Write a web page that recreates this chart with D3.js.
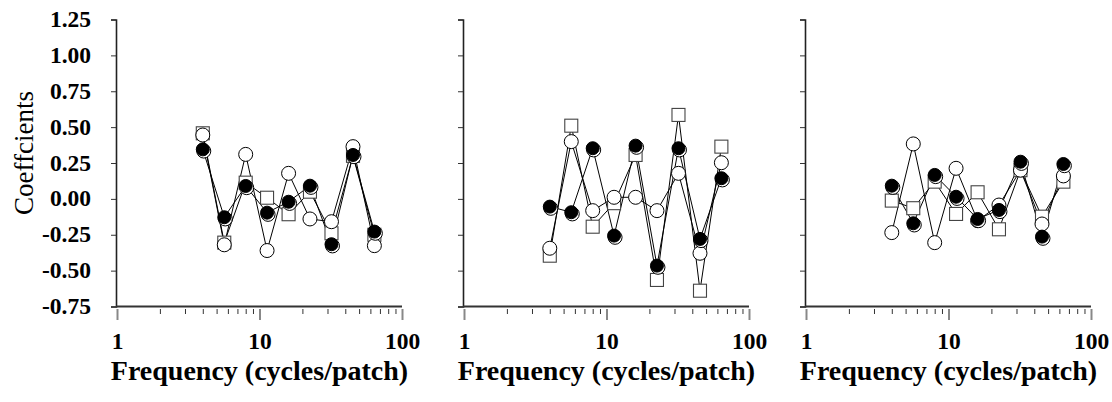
<!doctype html>
<html>
<head>
<meta charset="utf-8">
<title>Coefficients by frequency</title>
<script src="https://cdn.jsdelivr.net/npm/d3@7"></script>
<style>
  body { margin: 0; background: #fff; }
  svg { display: block; }
  .tick text { font-family: "Liberation Serif", serif; font-weight: bold; font-size: 23.5px; fill: #000; }
  .title { font-family: "Liberation Serif", serif; fill: #000; }
</style>
</head>
<body>
<script>
"use strict";

// spatial frequencies (cycles/patch), half-octave steps
const freqs = [4, 5.66, 8, 11.3, 16, 22.6, 32, 45.3, 64];

// per panel: filled circles, open circles, open squares
const filled = [
  [0.345, -0.128, 0.09, -0.096, -0.02, 0.092, -0.316, 0.306, -0.228],
  [-0.054, -0.093, 0.353, -0.256, 0.371, -0.465, 0.353, -0.279, 0.144],
  [0.092, -0.17, 0.167, 0.015, -0.14, -0.077, 0.259, -0.263, 0.243]
];
const open = [
  [0.445, -0.32, 0.31, -0.36, 0.178, -0.14, -0.159, 0.364, -0.326],
  [-0.344, 0.399, -0.082, 0.011, 0.011, -0.082, 0.178, -0.379, 0.252],
  [-0.235, 0.383, -0.305, 0.213, -0.152, -0.043, 0.2, -0.175, 0.16]
];
const squares = [
  [0.457, -0.305, 0.113, 0.008, -0.107, 0.05, -0.24, 0.3, -0.25],
  [-0.396, 0.51, -0.194, -0.03, 0.306, -0.565, 0.585, -0.64, 0.364],
  [-0.012, -0.065, 0.12, -0.105, 0.046, -0.212, 0.2, -0.124, 0.12]
];

const yTicks = [1.25, 1.0, 0.75, 0.5, 0.25, 0, -0.25, -0.5, -0.75];
const yTickLabels = ["1.25", "1.00", "0.75", "0.50", "0.25", "0.00", "-0.25", "-0.50", "-0.75"];
const xMajor = [1, 10, 100];
const xMajorLabels = ["1", "10", "100"];
const xMinor = [2, 3, 4, 5, 6, 7, 8, 9, 20, 30, 40, 50, 60, 70, 80, 90];

const width = 1112, height = 402;
const panelLeft = [117, 464, 806];
const panelWidth = 285;

const svg = d3.select("body").append("svg")
    .attr("width", width)
    .attr("height", height);

const x = d3.scaleLog().domain([1, 100]).range([0, panelWidth]);
const y = d3.scaleLinear().domain([-0.75, 1.25]).range([306.5, 19.5]);

const line = d3.line()
    .x(d => x(d[0]))
    .y(d => y(d[1]));

panelLeft.forEach((left, p) => {
    const g = svg.append("g").attr("transform", `translate(${left},0)`);

    // y axis
    const yAxis = g.append("g")
        .attr("transform", "translate(-1,0)")
        .call(d3.axisLeft(y).tickValues(yTicks).tickSize(5).tickPadding(20)
            .tickFormat((d, i) => p === 0 ? yTickLabels[i] : ""));
    yAxis.select(".domain").attr("stroke", "#222").attr("stroke-width", 1.6);
    yAxis.selectAll(".tick line").attr("stroke", "#333");
    yAxis.selectAll(".tick text").attr("dy", "0.3em");

    // x axis line
    g.append("line")
        .attr("x1", -1).attr("x2", x(100))
        .attr("y1", y(-0.75)).attr("y2", y(-0.75))
        .attr("stroke", "#333").attr("stroke-width", 2.2);

    // major and minor x ticks, hanging below the axis line
    const xMaj = g.append("g")
        .attr("transform", `translate(0,${y(-0.75) + 2.5})`)
        .call(d3.axisBottom(x).tickValues(xMajor).tickSize(11).tickPadding(12)
            .tickFormat((d, i) => xMajorLabels[i]));
    xMaj.select(".domain").remove();
    xMaj.selectAll(".tick line").attr("stroke", "#888").attr("stroke-width", 2);

    const xMin = g.append("g")
        .attr("transform", `translate(0,${y(-0.75) + 2.5})`)
        .call(d3.axisBottom(x).tickValues(xMinor).tickSize(5).tickFormat(""));
    xMin.select(".domain").remove();
    xMin.selectAll(".tick line").attr("stroke", "#333");

    g.append("text")
        .attr("class", "title")
        .attr("x", x(10))
        .attr("y", 380)
        .attr("text-anchor", "middle")
        .attr("font-size", 28)
        .attr("font-weight", "bold")
        .text("Frequency (cycles/patch)");

    const series = [squares[p], open[p], filled[p]];
    series.forEach(vals => {
        g.append("path")
            .datum(freqs.map((f, i) => [f, vals[i]]))
            .attr("fill", "none")
            .attr("stroke", "#000")
            .attr("stroke-width", 1)
            .attr("d", line);
    });

    // squares
    g.selectAll(".sq")
        .data(freqs.map((f, i) => [f, squares[p][i]]))
        .join("rect")
        .attr("class", "sq")
        .attr("x", d => x(d[0]) - 6.5)
        .attr("y", d => y(d[1]) - 6.5)
        .attr("width", 13).attr("height", 13)
        .attr("fill", "#fff").attr("stroke", "#444").attr("stroke-width", 1.1);

    // open circles
    g.selectAll(".oc")
        .data(freqs.map((f, i) => [f, open[p][i]]))
        .join("circle")
        .attr("class", "oc")
        .attr("cx", d => x(d[0]))
        .attr("cy", d => y(d[1]))
        .attr("r", 7)
        .attr("fill", "#fff").attr("stroke", "#000").attr("stroke-width", 1);

    // filled circles with their offset outline ring
    const fd = freqs.map((f, i) => [f, filled[p][i]]);
    g.selectAll(".fr")
        .data(fd)
        .join("circle")
        .attr("class", "fr")
        .attr("cx", d => x(d[0]) + 1)
        .attr("cy", d => y(d[1]) + 1.7)
        .attr("r", 7)
        .attr("fill", "#fff").attr("stroke", "#000").attr("stroke-width", 1);
    g.selectAll(".fc")
        .data(fd)
        .join("circle")
        .attr("class", "fc")
        .attr("cx", d => x(d[0]))
        .attr("cy", d => y(d[1]))
        .attr("r", 6.5)
        .attr("fill", "#000").attr("stroke", "#000").attr("stroke-width", 1);
});

svg.append("text")
    .attr("class", "title")
    .attr("transform", `translate(33,${y(0.32)}) rotate(-90)`)
    .attr("text-anchor", "middle")
    .attr("font-size", 27)
    .text("Coeffcients");
</script>
</body>
</html>
